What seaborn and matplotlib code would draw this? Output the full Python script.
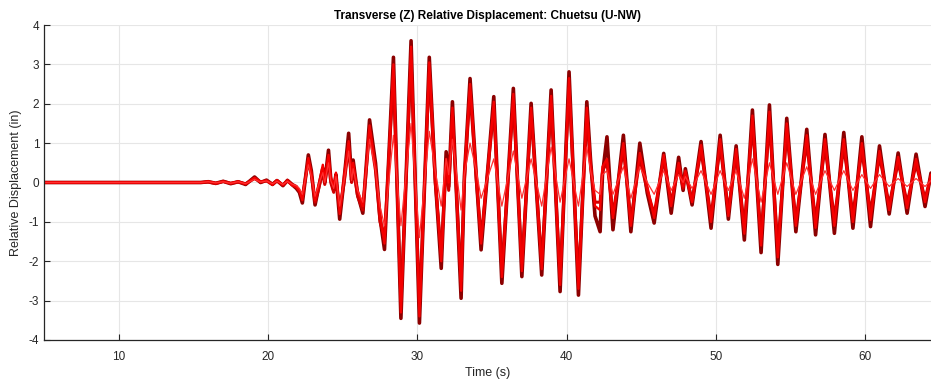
import numpy as np
import pandas as pd
import matplotlib
matplotlib.use("Agg")
import matplotlib.pyplot as plt
import seaborn as sns

# Extremum times (s)
time_s = [5.0, 15.5, 16.0, 16.5, 17.0, 17.5, 18.0, 18.5, 19.1, 19.5, 19.9, 20.3, 20.6, 21.0, 21.3, 21.6, 21.9, 22.1,
          22.3, 22.7, 22.9, 23.15, 23.4, 23.67, 23.8, 24.05, 24.2, 24.4, 24.55, 24.8, 25.1, 25.4, 25.6, 25.7, 26.0, 26.35, 26.8, 27.2, 27.5, 27.8,
          28.4, 28.9, 29.58, 30.14, 30.8, 31.2, 31.6, 31.93, 32.1, 32.35, 32.93, 33.15, 33.53, 33.95, 34.27, 35.12, 35.66, 36.43, 37.0, 37.62, 38.33, 38.96, 39.56, 40.16, 40.79, 41.35,
          41.6, 41.9, 42.24, 42.4, 42.7, 43.1, 43.8, 44.3, 44.9, 45.4, 45.86, 46.5, 47.0, 47.5, 47.8, 47.95, 48.4,
          49.0, 49.67, 50.28, 50.83, 51.35, 51.9, 52.44, 53.02, 53.58, 54.14, 54.74, 55.35, 56.08, 56.67, 57.3, 57.93, 58.56, 59.17, 59.77, 60.35, 60.95, 61.6, 62.2, 62.8, 63.4, 64.0, 64.4]

# Displacement traces (in)
trace_dark = [0, 0, 0.02, -0.02, 0.03, -0.03, 0.02, -0.05, 0.14, 0.0, 0.06, -0.05, 0.05, -0.08, 0.05, -0.05, -0.15, -0.25,
              -0.52, 0.70, 0.3, -0.57, -0.1, 0.36, 0.0, 0.82, 0.1, -0.19, 0.2, -0.93, 0.1, 1.25, 0.06, 0.57, -0.3, -0.78, 1.59, 0.49, -0.9, -1.70,
              3.18, -3.45, 3.60, -3.57, 3.18, 0.1, -2.18, 0.78, -0.1, 2.05, -2.94, 0.15, 2.64, 0.15, -1.71, 2.18, -2.56, 2.39, -2.39, 2.01, -2.35, 2.35, -2.77, 2.81, -2.86, 2.05,
              0.57, -0.85, -1.25, 0.2, 1.16, -1.2, 1.2, -1.25, 1.0, -0.27, -1.03, 0.74, -0.78, 0.64, -0.2, 0.35, -0.57,
              1.04, -1.16, 1.2, -0.93, 0.93, -1.46, 1.84, -1.78, 1.97, -2.08, 1.63, -1.25, 1.35, -1.33, 1.22, -1.29, 1.27, -1.16, 1.16, -1.12, 0.93, -0.80, 0.75, -0.78, 0.72, -0.61, 0.24]
trace_red = [0, 0, 0.03, -0.01, 0.02, -0.02, 0.03, -0.04, 0.12, 0.02, 0.05, -0.06, 0.06, -0.06, 0.04, -0.07, -0.12, -0.2,
             -0.45, 0.62, 0.25, -0.45, -0.05, 0.45, 0.05, 0.70, 0.15, -0.1, 0.25, -0.8, 0.2, 1.05, 0.15, 0.5, -0.2, -0.6, 1.45, 0.4, -0.8, -1.55,
             3.0, -3.3, 3.45, -3.4, 3.05, 0.2, -2.0, 0.6, 0.0, 1.9, -2.75, 0.25, 2.5, 0.25, -1.55, 2.05, -2.4, 2.25, -2.25, 1.9, -2.2, 2.2, -2.6, 2.65, -2.7, 1.9,
             0.5, -0.6, -0.7, 0.4, 0.6, -0.9, 1.0, -1.1, 0.75, -0.1, -0.9, 0.7, -0.6, 0.5, -0.1, 0.3, -0.5,
             0.95, -1.0, 1.1, -0.85, 0.85, -1.3, 1.7, -1.6, 1.8, -1.9, 1.5, -1.1, 1.2, -1.15, 1.1, -1.1, 1.1, -1.0, 1.0, -0.95, 0.8, -0.7, 0.65, -0.65, 0.6, -0.5, 0.2]
trace_mid = [0, 0, 0.01, -0.03, 0.03, -0.02, 0.01, -0.03, 0.1, 0.01, 0.04, -0.04, 0.04, -0.07, 0.06, -0.04, -0.1, -0.22,
             -0.35, 0.55, 0.2, -0.5, -0.15, 0.3, -0.05, 0.6, 0.0, -0.25, 0.1, -0.7, 0.0, 0.9, 0.0, 0.4, -0.35, -0.7, 1.3, 0.3, -1.0, -1.4,
             2.7, -3.0, 3.1, -3.1, 2.8, 0.0, -1.8, 0.5, -0.2, 1.7, -2.5, 0.05, 2.3, 0.05, -1.4, 1.85, -2.2, 2.05, -2.05, 1.7, -2.0, 2.0, -2.4, 2.4, -2.45, 1.7,
             0.4, -0.5, -0.5, 0.3, 0.5, -0.8, 0.85, -0.95, 0.6, -0.2, -0.8, 0.6, -0.5, 0.4, -0.15, 0.25, -0.45,
             0.8, -0.85, 0.9, -0.7, 0.7, -1.1, 1.45, -1.35, 1.5, -1.6, 1.25, -0.95, 1.0, -0.95, 0.9, -0.9, 0.9, -0.8, 0.8, -0.75, 0.65, -0.55, 0.5, -0.5, 0.45, -0.4, 0.15]
trace_light = [0, 0, 0.02, -0.01, 0.02, -0.02, 0.02, -0.03, 0.08, 0.01, 0.04, -0.03, 0.03, -0.05, 0.03, -0.04, -0.08, -0.15,
               -0.3, 0.45, 0.15, -0.35, -0.05, 0.25, 0.0, 0.5, 0.05, -0.15, 0.15, -0.6, 0.05, 0.8, 0.05, 0.35, -0.2, -0.5, 1.1, 0.3, -0.6, -1.1,
               1.2, -1.1, 1.5, -1.4, 1.3, 0.3, -0.6, 0.6, 0.2, 1.1, -0.7, 0.2, 1.0, 0.3, -0.4, 0.6, -0.6, 0.8, -0.4, 0.6, -0.6, 0.9, -0.5, 0.6, -0.6, 0.9,
               0.3, -0.2, -0.3, 0.2, 0.3, -0.3, 0.4, -0.4, 0.4, 0.0, -0.3, 0.3, -0.2, 0.2, 0.0, 0.15, -0.15,
               0.3, -0.3, 0.3, -0.2, 0.3, -0.4, 0.6, -0.5, 0.5, -0.3, 0.5, -0.3, 0.4, -0.3, 0.3, -0.2, 0.3, -0.2, 0.2, -0.15, 0.2, -0.1, 0.1, -0.1, 0.1, -0.1, 0.05]

trace_names = ["dark", "mid", "red", "light"]
trace_colors = ["#8c0000", "#d00000", "#f40000", "#ff3030"]
trace_widths = [2.6, 2.2, 1.7, 0.9]
xticks = [10, 20, 30, 40, 50, 60]
yticks = [-4, -3, -2, -1, 0, 1, 2, 3, 4]

frames = []
for name, vals in zip(trace_names, [trace_dark, trace_mid, trace_red, trace_light]):
    frames.append(pd.DataFrame({"t": time_s, "v": vals, "trace": name}))
df = pd.concat(frames, ignore_index=True)

sns.set_theme(style="whitegrid")
plt.rcParams['font.family'] = ['Liberation Sans', 'DejaVu Sans']
plt.rcParams['axes.unicode_minus'] = False

fig = plt.figure(figsize=(9.31, 3.83), dpi=100)
ax = fig.add_axes([0.0473, 0.1123, 0.9527, 0.8224])

for name, col, lw in zip(trace_names, trace_colors, trace_widths):
    sub = df[df["trace"] == name]
    sns.lineplot(data=sub, x="t", y="v", ax=ax, color=col, lw=lw, sort=False,
                 estimator=None, legend=False)

ax.set_xlim(5, 64.4)
ax.set_ylim(-4, 4)
ax.set_xticks(xticks)
ax.set_yticks(yticks)
ax.grid(True, color="#e6e6e6", lw=0.8)
ax.set_axisbelow(True)
for s in ["top", "right"]:
    ax.spines[s].set_visible(False)
for s in ["left", "bottom"]:
    ax.spines[s].set_visible(True)
    ax.spines[s].set_color("#262626")
    ax.spines[s].set_linewidth(0.9)
ax.tick_params(axis="both", direction="in", length=4, width=0.8, colors="#262626",
               labelsize=8.5, labelcolor="#262626", left=True, bottom=True)
ax.tick_params(axis="x", pad=8)
ax.set_xlabel("Time (s)", fontsize=9, color="#262626", labelpad=3)
ax.set_ylabel("Relative Displacement (in)", fontsize=9, color="#262626", labelpad=5)
ax.set_title("Transverse (Z) Relative Displacement: Chuetsu (U-NW)", fontsize=8.5,
             fontweight="bold", color="#000000", pad=4)

fig.savefig("out.png", dpi=100)
